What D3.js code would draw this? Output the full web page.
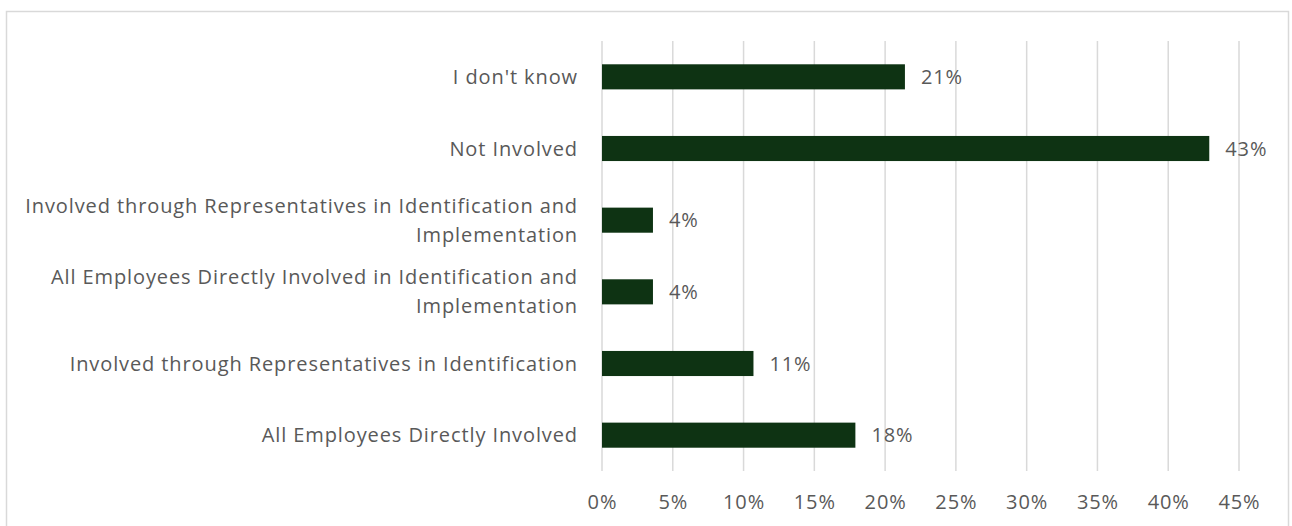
<!DOCTYPE html>
<html lang="en">
<head>
  <meta charset="UTF-8">
  <title>Employee Involvement</title>
  <script src="https://d3js.org/d3.v7.min.js"></script>
  <style>
    body { margin: 0; background: #fff; }
    text { font-family: "Open Sans", sans-serif; fill: #595959; letter-spacing: 0.9px; }
    .grid line { stroke: #d9d9d9; stroke-width: 1.5; }
    .bar { fill: #0e3313; }
  </style>
</head>
<body>
  <svg width="1292" height="526"></svg>
  <script>
    const categories = [
      "I don't know",
      "Not Involved",
      "Involved through Representatives in Identification and Implementation",
      "All Employees Directly Involved in Identification and Implementation",
      "Involved through Representatives in Identification",
      "All Employees Directly Involved"
    ];
    const values = [0.214, 0.429, 0.036, 0.036, 0.107, 0.179];
    const valueLabels = ["21%", "43%", "4%", "4%", "11%", "18%"];
    const xTicks = [0, 0.05, 0.10, 0.15, 0.20, 0.25, 0.30, 0.35, 0.40, 0.45];

    const svg = d3.select("svg");
    const fs = 20;

    // chart frame
    svg.append("rect")
      .attr("x", 6.5).attr("y", 11.5)
      .attr("width", 1282).attr("height", 530)
      .attr("fill", "none")
      .attr("stroke", "#d9d9d9")
      .attr("stroke-width", 1.5);

    const x = d3.scaleLinear().domain([0, 0.45]).range([602, 1239]);
    const y = d3.scaleBand().domain(categories).range([41, 471])
      .paddingInner(0.65).paddingOuter(0.325);

    // vertical gridlines
    svg.append("g").attr("class", "grid")
      .selectAll("line").data(xTicks).join("line")
      .attr("x1", d => x(d)).attr("x2", d => x(d))
      .attr("y1", 41).attr("y2", 471);

    // x tick labels
    const xAxis = d3.axisBottom(x).tickValues(xTicks)
      .tickFormat(d3.format(".0%")).tickSize(0).tickPadding(24);
    const ax = svg.append("g").attr("transform", "translate(0,471)").call(xAxis);
    ax.select(".domain").remove();
    ax.selectAll("text").attr("font-size", fs).attr("fill", "#595959")
      .style("font-family", "'Open Sans', sans-serif");

    // bars
    svg.append("g").selectAll("rect").data(values).join("rect")
      .attr("class", "bar")
      .attr("x", x(0))
      .attr("y", (d, i) => y(categories[i]))
      .attr("width", d => x(d) - x(0))
      .attr("height", y.bandwidth());

    // value labels
    svg.append("g").selectAll("text").data(values).join("text")
      .attr("x", d => x(d) + 16)
      .attr("y", (d, i) => y(categories[i]) + y.bandwidth() / 2)
      .attr("dy", "0.35em")
      .attr("font-size", fs)
      .text((d, i) => valueLabels[i]);

    // category labels, wrapped
    const maxWidth = 570, lineH = 29;
    const labels = svg.append("g");
    categories.forEach(cat => {
      const t = labels.append("text")
        .attr("text-anchor", "end")
        .attr("font-size", fs);
      const words = cat.split(" ");
      let lines = [], cur = [];
      const probe = t.append("tspan");
      words.forEach(w => {
        probe.text(cur.concat(w).join(" "));
        if (cur.length && probe.node().getComputedTextLength() > maxWidth) {
          lines.push(cur.join(" "));
          cur = [w];
        } else cur.push(w);
      });
      lines.push(cur.join(" "));
      probe.remove();
      const cy = y(cat) + y.bandwidth() / 2;
      lines.forEach((ln, k) => {
        t.append("tspan")
          .attr("x", 578)
          .attr("y", cy + (k - (lines.length - 1) / 2) * lineH)
          .attr("dy", "0.35em")
          .text(ln);
      });
    });
  </script>
</body>
</html>
